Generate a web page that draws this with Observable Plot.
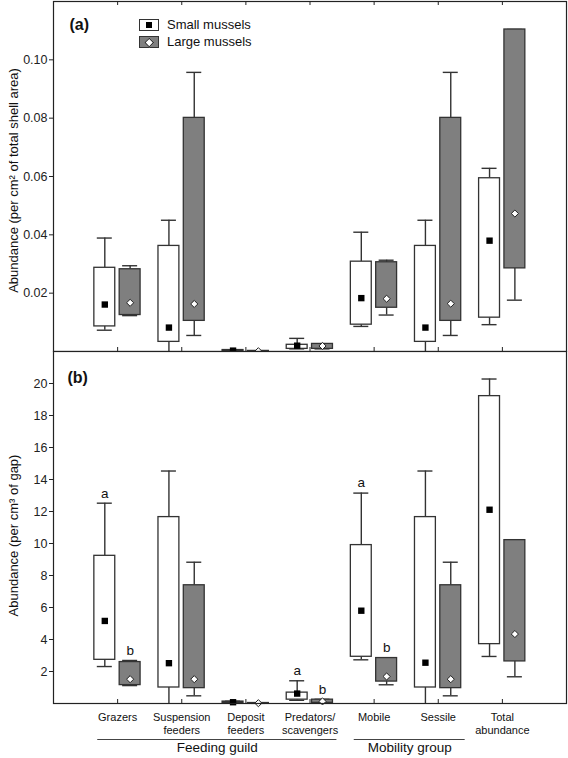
<!DOCTYPE html>
<html><head><meta charset="utf-8">
<script src="https://cdn.jsdelivr.net/npm/d3@7"></script>
<script src="https://cdn.jsdelivr.net/npm/@observablehq/plot@0.6"></script>
<style>
body{margin:0;background:#fff;font-family:"Liberation Sans",Arial,sans-serif;}
#wrap{position:relative;width:568px;height:758px;overflow:hidden;}
#wrap svg{display:block;}
.sw{position:absolute;left:139px;width:20px;height:12px;box-sizing:border-box;border:1.3px solid #333;}
.lt{position:absolute;left:167px;font-size:13px;line-height:13px;color:#111;}
</style></head><body><div id="wrap"></div>
<script>
const categories = ["Grazers","Suspension\nfeeders","Deposit\nfeeders","Predators/\nscavengers","Mobile","Sessile","Total\nabundance"];
const seriesNames = ["Small mussels","Large mussels"];
const groups = [{name:"Feeding guild", first:1, last:4},{name:"Mobility group", first:5, last:6}];
const yLabelA = "Abundance (per cm² of total shell area)";
const yLabelB = "Abundance (per cm³ of gap)";
const yTicksA = [0.02,0.04,0.06,0.08,0.10];
const yTicksB = [2,4,6,8,10,12,14,16,18,20];

// Panel (a): per cm2 shell area
const aSmallMean  = [0.0161,0.0082,0.0003,0.0020,0.0183,0.0082,0.0380];
const aSmallBoxLo = [0.0086,0.0033,0.0001,0.0009,0.0092,0.0033,0.0116];
const aSmallBoxHi = [0.0287,0.0362,0.0005,0.0023,0.0308,0.0362,0.0594];
const aSmallWhLo  = [0.0073,0.0000,0.0001,0.0009,0.0086,0.0000,0.0092];
const aSmallWhHi  = [0.0389,0.0450,0.0006,0.0045,0.0409,0.0450,0.0628];
const aLargeMean  = [0.0167,0.0163,0.0001,0.0019,0.0181,0.0164,0.0473];
const aLargeBoxLo = [0.0125,0.0105,0.00005,0.0009,0.0150,0.0105,0.0285];
const aLargeBoxHi = [0.0282,0.0801,0.0002,0.0026,0.0306,0.0801,0.1104];
const aLargeWhLo  = [0.0123,0.0055,0.00005,0.0009,0.0125,0.0055,0.0176];
const aLargeWhHi  = [0.0294,0.0957,0.0002,0.0026,0.0313,0.0957,0.1104];

// Panel (b): per cm3 gap
const bSmallMean  = [5.16,2.52,0.08,0.62,5.80,2.55,12.11];
const bSmallBoxLo = [2.73,1.00,0.04,0.24,2.92,1.00,3.71];
const bSmallBoxHi = [9.23,11.65,0.12,0.68,9.90,11.65,19.21];
const bSmallWhLo  = [2.31,0.00,0.03,0.20,2.73,0.00,2.94];
const bSmallWhHi  = [12.52,14.53,0.14,1.42,13.15,14.53,20.28];
const bLargeMean  = [1.52,1.52,0.02,0.13,1.69,1.52,4.34];
const bLargeBoxLo = [1.15,0.96,0.01,0.04,1.37,0.96,2.63];
const bLargeBoxHi = [2.59,7.39,0.03,0.24,2.84,7.39,10.21];
const bLargeWhLo  = [1.12,0.48,0.01,0.04,1.17,0.48,1.67];
const bLargeWhHi  = [2.69,8.83,0.04,0.26,2.86,8.83,10.21];
const bSmallLetters = ["a","","","a","a","",""];
const bLargeLetters = ["b","","","b","b","",""];

const FONT = '"Liberation Sans", Arial, sans-serif';
const OFF = {small:-0.2, large:0.195};
const HALF = 0.163, CAP = 0.117;
const INK = "#333", GRAY = "#7f7f7f";

function rows(series, mean, lo, hi, wlo, whi, letters){
  return categories.map((c,i)=>({pos:i+1, cx:i+1+OFF[series], series, mean:mean[i], lo:lo[i], hi:hi[i], wlo:wlo[i], whi:whi[i], letter: letters ? letters[i] : ""}));
}
const catRows = categories.map((c,i)=>({pos:i+1, label:c}));

function boxMarks(small, large){
  const all = small.concat(large);
  return [
    Plot.ruleX(all, {x:"cx", y1:"hi", y2:"whi", stroke:INK, strokeWidth:1.4}),
    Plot.ruleX(all, {x:"cx", y1:"wlo", y2:"lo", stroke:INK, strokeWidth:1.4}),
    Plot.ruleY(all, {y:"whi", x1:d=>d.cx-CAP, x2:d=>d.cx+CAP, stroke:INK, strokeWidth:1.4}),
    Plot.ruleY(all.filter(d=>d.wlo>0), {y:"wlo", x1:d=>d.cx-CAP, x2:d=>d.cx+CAP, stroke:INK, strokeWidth:1.4}),
    Plot.rect(small, {x1:d=>d.cx-HALF, x2:d=>d.cx+HALF, y1:"lo", y2:"hi", fill:"#fff", stroke:INK, strokeWidth:1.3}),
    Plot.rect(large, {x1:d=>d.cx-HALF, x2:d=>d.cx+HALF, y1:"lo", y2:"hi", fill:GRAY, stroke:INK, strokeWidth:1.3}),
    Plot.dot(small, {x:"cx", y:"mean", symbol:"square", r:3.6, fill:"#000", stroke:"none"}),
    Plot.dot(large, {x:"cx", y:"mean", symbol:"diamond2", r:3.2, fill:"#fff", stroke:"#222", strokeWidth:1})
  ];
}

const W = 568, ML = 53, MR = 2;
const xScale = {type:"linear", domain:[0, categories.length+1], axis:null};

// Panel A
const hA = 352, mtA = 1, mbA = 1, innerA = hA-mtA-mbA;
const smallA = rows("small", aSmallMean, aSmallBoxLo, aSmallBoxHi, aSmallWhLo, aSmallWhHi);
const largeA = rows("large", aLargeMean, aLargeBoxLo, aLargeBoxHi, aLargeWhLo, aLargeWhHi);
const chartA = Plot.plot({
  width:W, height:hA, marginTop:mtA, marginBottom:mbA, marginLeft:ML, marginRight:MR,
  style:{fontFamily:FONT, fontSize:"12.5px", color:"#222", background:"#fff"},
  x:xScale,
  y:{domain:[0,0.12], axis:null},
  marks:[
    ...boxMarks(smallA, largeA),
    Plot.frame({stroke:"#222", strokeWidth:1.2}),
    Plot.tickX(catRows, {x:"pos", insetBottom:innerA-4, stroke:"#222"}),
    Plot.tickX(catRows, {x:"pos", insetTop:innerA-4, stroke:"#222"}),
    Plot.axisY(yTicksA, {tickFormat:d3.format(".2f"), tickSize:4, tickPadding:2, label:null, fontSize:12.5}),
    Plot.text([yLabelA], {text:d=>d, frameAnchor:"left", textAnchor:"middle", rotate:-90, dx:-40, dy:4, fontSize:13, fill:"#111"}),
    Plot.text(["(a)"], {text:d=>d, frameAnchor:"top-left", textAnchor:"start", dx:16, dy:17, fontSize:16, fontWeight:"bold", fill:"#111"})
  ]
});

// Panel B
const hB = 407, mtB = 0, mbB = 55, innerB = hB-mtB-mbB;
const smallB = rows("small", bSmallMean, bSmallBoxLo, bSmallBoxHi, bSmallWhLo, bSmallWhHi, bSmallLetters);
const largeB = rows("large", bLargeMean, bLargeBoxLo, bLargeBoxHi, bLargeWhLo, bLargeWhHi, bLargeLetters);
const lettered = smallB.concat(largeB).filter(d=>d.letter);
const chartB = Plot.plot({
  width:W, height:hB, marginTop:mtB, marginBottom:mbB, marginLeft:ML, marginRight:MR,
  style:{fontFamily:FONT, fontSize:"12.5px", color:"#222", background:"#fff", overflow:"visible"},
  x:xScale,
  y:{domain:[0,22], axis:null},
  marks:[
    ...boxMarks(smallB, largeB),
    Plot.frame({stroke:"#222", strokeWidth:1.2}),
    Plot.tickX(catRows, {x:"pos", insetTop:innerB-4, stroke:"#222"}),
    Plot.axisY(yTicksB, {tickSize:4, tickPadding:2, label:null, fontSize:12.5}),
    Plot.text([yLabelB], {text:d=>d, frameAnchor:"left", textAnchor:"middle", rotate:-90, dx:-40, dy:8, fontSize:13, fill:"#111"}),
    Plot.text(["(b)"], {text:d=>d, frameAnchor:"top-left", textAnchor:"start", dx:14, dy:20, fontSize:16, fontWeight:"bold", fill:"#111"}),
    Plot.text(lettered, {x:"cx", y:"whi", text:"letter", dy:-10, fontSize:13.5, fill:"#111"}),
    Plot.text(catRows, {x:"pos", text:"label", frameAnchor:"bottom", lineAnchor:"top", dy:9, lineHeight:1.15, fontSize:11, fill:"#111"}),
    Plot.ruleY(groups, {y:()=>0, x1:d=>d.first-0.31, x2:d=>d.last+0.42, dy:36, stroke:"#444", strokeWidth:1}),
    Plot.text(groups, {x:d=>(d.first-0.31+d.last+0.42)/2, text:"name", frameAnchor:"bottom", dy:48, fontSize:13.5, fill:"#111"})
  ]
});

const wrap = document.getElementById("wrap");
wrap.appendChild(chartA);
chartB.style.marginTop = "-1px";
wrap.appendChild(chartB);

// legend (inside panel a)
const legendSpec = [
  {name:seriesNames[0], top:19, bg:"#fff", inner:"square"},
  {name:seriesNames[1], top:36, bg:GRAY, inner:"diamond"}
];
legendSpec.forEach(s=>{
  const sw = document.createElement("div");
  sw.className = "sw"; sw.style.top = s.top+"px"; sw.style.background = s.bg;
  const m = document.createElement("div");
  m.style.position = "absolute";
  if (s.inner === "square") {
    m.style.cssText += "width:6px;height:6px;background:#000;left:5.7px;top:1.7px;";
  } else {
    m.style.cssText += "width:4.5px;height:4.5px;background:#fff;border:1px solid #222;left:5.7px;top:2px;transform:rotate(45deg);";
  }
  sw.appendChild(m);
  wrap.appendChild(sw);
  const t = document.createElement("div");
  t.className = "lt"; t.style.top = (s.top-1)+"px"; t.textContent = s.name;
  wrap.appendChild(t);
});
</script>
</body></html>
